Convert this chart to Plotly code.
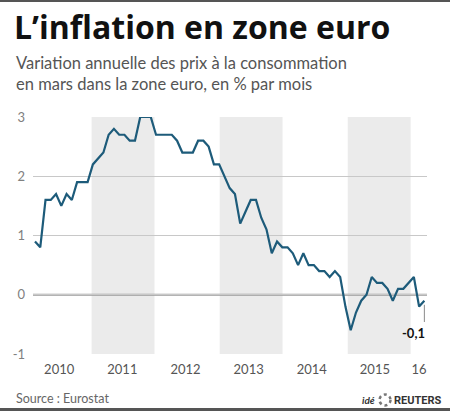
import plotly.graph_objects as go

# ---- data ----
years = [2010, 2011, 2012, 2013, 2014, 2015, 2016]
inflation = [
    # 2010
    0.9, 0.8, 1.6, 1.6, 1.7, 1.5, 1.7, 1.6, 1.9, 1.9, 1.9, 2.2,
    # 2011
    2.3, 2.4, 2.7, 2.8, 2.7, 2.7, 2.6, 2.6, 3.0, 3.0, 3.0, 2.7,
    # 2012
    2.7, 2.7, 2.7, 2.6, 2.4, 2.4, 2.4, 2.6, 2.6, 2.5, 2.2, 2.2,
    # 2013
    2.0, 1.8, 1.7, 1.2, 1.4, 1.6, 1.6, 1.3, 1.1, 0.7, 0.9, 0.8,
    # 2014
    0.8, 0.7, 0.5, 0.7, 0.5, 0.5, 0.4, 0.4, 0.3, 0.4, 0.3, -0.2,
    # 2015
    -0.6, -0.3, -0.1, 0.0, 0.3, 0.2, 0.2, 0.1, -0.1, 0.1, 0.1, 0.2,
    # 2016
    0.3, -0.2, -0.1,
]
year_labels = ["2010", "2011", "2012", "2013", "2014", "2015", "16"]
shaded_years = [2011, 2013, 2015]
y_ticks = [-1, 0, 1, 2, 3]
last_label = "-0,1"

# ---- layout geometry (pixels) ----
W, H = 450, 411
L, R, T, B = 33, 23, 117, 57
PW, PH = W - L - R, H - T - B


def px_x(px):
    return (px - L) / PW


def px_y(py):
    return (H - B - py) / PH


months = list(range(len(inflation)))
x_min, x_max = -0.38, 74.5

fig = go.Figure()

fig.add_trace(go.Scatter(
    x=months, y=inflation, mode="lines",
    line=dict(color="#1d5b7a", width=2.2),
    hoverinfo="skip", showlegend=False,
))

shapes = []
# shaded year bands
for yr in shaded_years:
    k = yr - 2010
    x0 = 12.17 * k - 1.41
    shapes.append(dict(type="rect", xref="x", yref="y", x0=x0, x1=x0 + 11.95,
                       y0=-1, y1=3, fillcolor="#ebebeb", line_width=0, layer="below"))
# zero line
shapes.append(dict(type="line", xref="x", yref="y", x0=x_min, x1=x_max, y0=0, y1=0,
                   line=dict(color="#9a9a9a", width=2), layer="below"))
# leader for last value
shapes.append(dict(type="line", xref="x", yref="y", x0=months[-1], x1=months[-1],
                   y0=inflation[-1] - 0.07, y1=inflation[-1] - 0.36,
                   line=dict(color="#8a8a8a", width=1)))
# frame lines top and bottom
shapes.append(dict(type="rect", xref="paper", yref="paper",
                   x0=px_x(0), x1=px_x(W), y0=px_y(0), y1=px_y(2),
                   fillcolor="#555555", line_width=0))
shapes.append(dict(type="rect", xref="paper", yref="paper",
                   x0=px_x(0), x1=px_x(W), y0=px_y(408), y1=px_y(411),
                   fillcolor="#555555", line_width=0))
# logo circle
shapes.append(dict(type="circle", xref="paper", yref="paper",
                   x0=px_x(379.5), x1=px_x(390.5), y0=px_y(394.5), y1=px_y(405.5),
                   line=dict(color="#777777", width=2.5, dash="dot"), fillcolor="#ffffff"))

tick_pos = [12 * (i) + 4.6 for i in range(len(years) - 1)] + [73.0]

annotations = [
    dict(text="<b>L’inflation en zone euro</b>", xref="paper", yref="paper",
         x=px_x(12), y=px_y(3), xanchor="left", yanchor="top", showarrow=False,
         font=dict(family="Open Sans", size=32, color="#111111")),
    dict(text="Variation annuelle des prix à la consommation<br>en mars dans la zone euro, en % par mois",
         xref="paper", yref="paper", x=px_x(14), y=px_y(51), xanchor="left", yanchor="top",
         showarrow=False, align="left",
         font=dict(family="Lato", size=16.5, color="#555555")),
    dict(text="Source : Eurostat", xref="paper", yref="paper", x=px_x(14), y=px_y(398),
         xanchor="left", yanchor="middle", showarrow=False,
         font=dict(family="Lato", size=12.5, color="#666666")),
    dict(text="<b><i>idé</i></b>", xref="paper", yref="paper", x=px_x(377), y=px_y(400),
         xanchor="right", yanchor="middle", showarrow=False,
         font=dict(family="Lato", size=10, color="#333333")),
    dict(text="<b>REUTERS</b>", xref="paper", yref="paper", x=px_x(392), y=px_y(400),
         xanchor="left", yanchor="middle", showarrow=False,
         font=dict(family="Roboto", size=11, color="#333333")),
    dict(text="<b>" + last_label + "</b>", xref="x", yref="y", x=months[-1] + 0.5,
         y=inflation[-1] - 0.55, xanchor="right", yanchor="middle", showarrow=False,
         font=dict(family="Lato", size=13, color="#111111")),
]

fig.update_layout(
    width=W, height=H, margin=dict(l=L, r=R, t=T, b=B, pad=0),
    paper_bgcolor="white", plot_bgcolor="white",
    shapes=shapes, annotations=annotations,
    xaxis=dict(range=[x_min, x_max], tickvals=tick_pos, ticktext=year_labels,
               showgrid=False, zeroline=False, showline=False, ticks="",
               ticklabelstandoff=6,
               tickfont=dict(family="Lato", size=13, color="#555555"), fixedrange=True),
    yaxis=dict(range=[-1, 3], tickvals=y_ticks, ticktext=[str(v) for v in y_ticks],
               showgrid=True, gridcolor="#c8c8c8", gridwidth=1, zeroline=False,
               showline=False, ticks="", ticklabelstandoff=7,
               tickfont=dict(family="Lato", size=13, color="#808080"), fixedrange=True),
    showlegend=False,
)

fig.write_html("out.html")
